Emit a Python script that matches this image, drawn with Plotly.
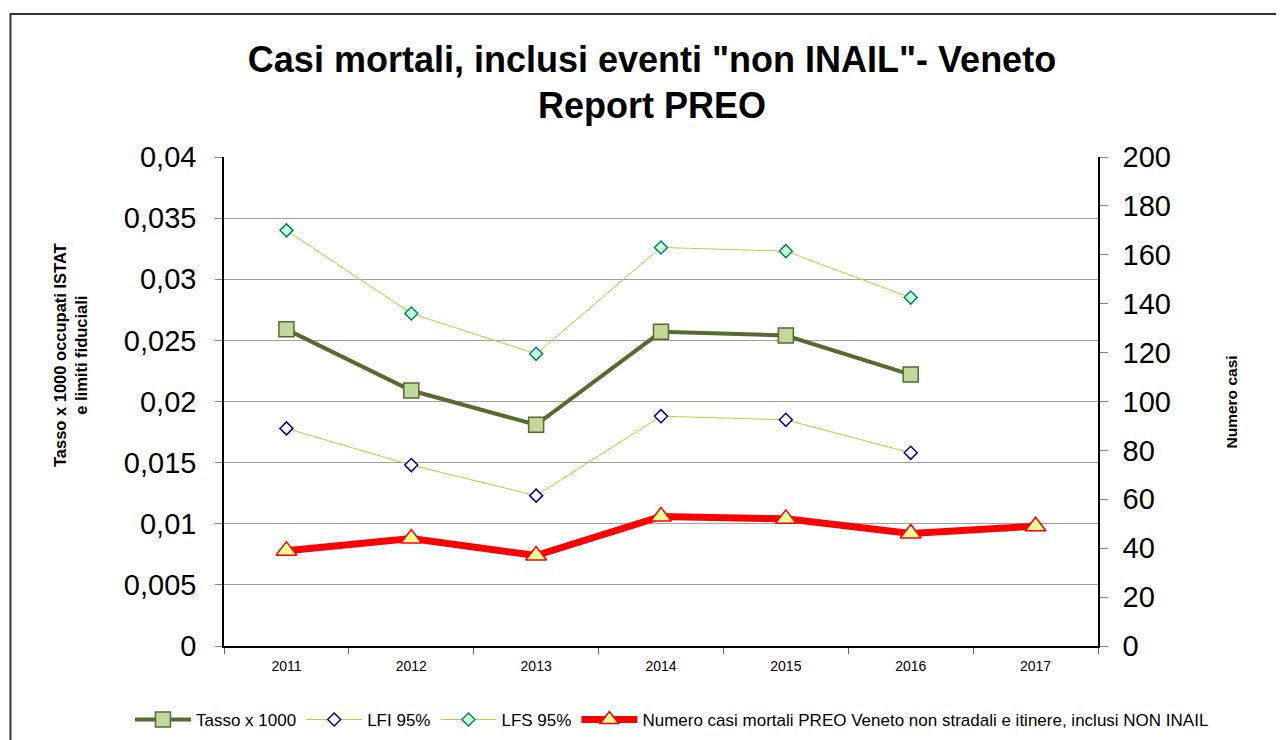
import plotly.graph_objects as go

years = ["2011", "2012", "2013", "2014", "2015", "2016", "2017"]
tasso = [0.0259, 0.0209, 0.0181, 0.0257, 0.0254, 0.0222, None]
lfi = [0.0178, 0.0148, 0.0123, 0.0188, 0.0185, 0.0158, None]
lfs = [0.0340, 0.0272, 0.0239, 0.0326, 0.0323, 0.0285, None]
casi = [39, 44, 37, 53, 52, 46, 49]

left_ticks = [0, 0.005, 0.01, 0.015, 0.02, 0.025, 0.03, 0.035, 0.04]
left_labels = ["0", "0,005", "0,01", "0,015", "0,02", "0,025", "0,03", "0,035", "0,04"]
right_ticks = [0, 20, 40, 60, 80, 100, 120, 140, 160, 180, 200]

FONT = "Liberation Sans, Arial, sans-serif"

fig = go.Figure()
fig.add_trace(go.Scatter(
    x=years, y=tasso, name="Tasso x 1000", mode="lines+markers",
    line=dict(color="#556B2F", width=4),
    marker=dict(symbol="square", size=15, color="#C4D79B", line=dict(color="#556B2F", width=1.5)),
    yaxis="y"))
fig.add_trace(go.Scatter(
    x=years, y=lfi, name="LFI 95%", mode="lines+markers",
    line=dict(color="#B5D334", width=1),
    marker=dict(symbol="diamond", size=10, color="white", line=dict(color="#000099", width=1.5)),
    yaxis="y"))
fig.add_trace(go.Scatter(
    x=years, y=lfs, name="LFS 95%", mode="lines+markers",
    line=dict(color="#B5D334", width=1),
    marker=dict(symbol="diamond", size=10, color="#CCFFCC", line=dict(color="#008080", width=1.5)),
    yaxis="y"))
fig.add_trace(go.Scatter(
    x=years, y=casi, name="Numero casi mortali PREO Veneto non stradali e itinere, inclusi NON INAIL",
    mode="lines+markers",
    line=dict(color="#FF0000", width=7),
    marker=dict(symbol="triangle-up", size=18, color="#FFFF99", line=dict(color="#FF0000", width=1.5)),
    yaxis="y2"))

fig.update_layout(
    width=1276, height=732,
    paper_bgcolor="white", plot_bgcolor="white",
    margin=dict(l=216, r=186, t=149, b=94, autoexpand=False),
    font=dict(family=FONT, color="black"),
    title=dict(text="<b>Casi mortali, inclusi eventi \"non INAIL\"- Veneto<br>Report PREO</b>",
               x=0.5047, xanchor="center", y=0.913, yanchor="middle",
               font=dict(size=36, family=FONT, color="black")),
    xaxis=dict(type="category", categoryorder="array", categoryarray=years,
               showgrid=False, showline=True, linecolor="black", linewidth=1.5,
               ticks="outside", tickson="boundaries", ticklen=6, tickcolor="#666",
               tickfont=dict(size=14), ticklabelstandoff=6, range=[-0.5, 6.5]),
    yaxis=dict(range=[0, 0.04], tickvals=left_ticks, ticktext=left_labels,
               showgrid=True, gridcolor="#A0A0A0", gridwidth=1,
               showline=True, linecolor="black", linewidth=1.5,
               ticks="outside", ticklen=7, tickcolor="#888",
               tickfont=dict(size=29), ticklabelstandoff=13, zeroline=False),
    yaxis2=dict(range=[0, 200], tickvals=right_ticks, overlaying="y", side="right",
                showgrid=False, showline=True, linecolor="black", linewidth=1.5,
                ticks="outside", ticklen=8, tickcolor="#888",
                tickfont=dict(size=29), ticklabelstandoff=9, zeroline=False),
    legend=dict(orientation="h", x=-0.1076, xanchor="left", y=-0.1513, yanchor="middle",
                font=dict(size=17), tracegroupgap=0, itemwidth=56, bgcolor="rgba(0,0,0,0)"),
    showlegend=True,
)

fig.add_annotation(text="<b>Tasso x 1000 occupati ISTAT<br>e limiti fiduciali</b>",
                   xref="paper", yref="paper", x=-0.1762, y=0.595, textangle=-90,
                   showarrow=False, font=dict(size=16.5), xanchor="center", yanchor="middle")
fig.add_annotation(text="<b>Numero casi</b>",
                   xref="paper", yref="paper", x=1.1533, y=0.5, textangle=-90,
                   showarrow=False, font=dict(size=15.5), xanchor="center", yanchor="middle")

fig.add_shape(type="line", xref="paper", yref="y", x0=0, x1=1, y0=0.02, y1=0.02,
              line=dict(color="#404040", width=1.2), layer="below")
fig.add_shape(type="rect", xref="paper", yref="paper",
              x0=-0.2443, x1=1.25, y0=-0.25, y1=1.2924,
              line=dict(color="#333", width=2), fillcolor="rgba(0,0,0,0)")

fig.write_html("out.html")
